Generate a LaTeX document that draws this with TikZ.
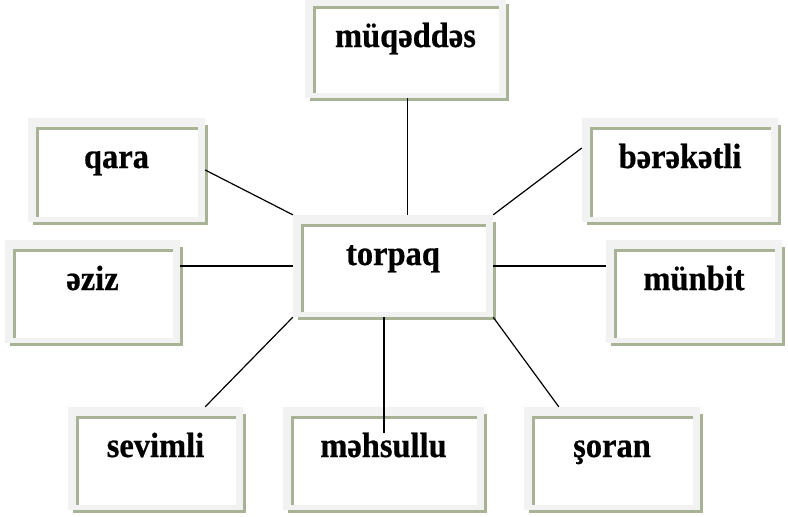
\documentclass[tikz,border=0pt]{standalone}
\usepackage{fontspec}
\usepackage{graphicx}
\setmainfont{Liberation Serif}[BoldFeatures={FakeBold=0.6}]
\usetikzlibrary{fit}
\definecolor{boxgray}{RGB}{242,242,242}
\definecolor{boxgreen}{RGB}{168,178,148}
\tikzset{
  conn/.style={draw=black, line width=1.2pt},
  lbl/.style={anchor=base, inner sep=0pt, font=\fontsize{32.5}{34}\selectfont\bfseries},
}
\newcommand{\wordbox}[6]{%
  \fill[boxgray] (#2,#3) rectangle (#4,#5);
  \draw[boxgreen, line width=3.5pt] (#4+1.5,#3+7) -- (#4+1.5,#5+1.5) -- (#2+5,#5+1.5);
  \fill[white] (#2+9,#3+10) rectangle (#4-7,#5-5);
  \draw[boxgreen, line width=3.5pt] (#2+9.5,#5-5) -- (#2+9.5,#3+10.5) -- (#4-7,#3+10.5);
  \node[fit={(#2,#3) (#4,#5)}, inner sep=0pt] (#1) {};
  \node[lbl] (#1l) at ({(#2+#4)/2},#3+50) {\scalebox{1}[1.08]{#6}};
}
\begin{document}
\begin{tikzpicture}[x=1pt,y=-1pt]
\useasboundingbox[fill=white] (0,0) rectangle (788,517);
\wordbox{muq}{305}{-3}{506}{98}{müqəddəs}
\wordbox{qara}{28}{118}{205}{222}{qara}
\wordbox{berek}{582}{118}{778}{222}{bərəkətli}
\wordbox{eziz}{5}{240}{180}{343}{əziz}
\wordbox{munbit}{606}{240}{782}{343}{münbit}
\wordbox{torpaq}{293}{215}{493}{317}{torpaq}
\wordbox{sevimli}{68}{407}{243}{510}{sevimli}
\wordbox{mehsullu}{283}{407}{484}{510}{məhsullu}
\wordbox{soran}{524}{407}{700}{510}{şoran}
\draw[conn] ([xshift=2pt]muq.south) -- ([xshift=2pt]muq.south |- torpaq.north);
\draw[conn] (qara.east) -- (torpaq.north west);
\draw[conn] ([yshift=22pt]berek.west) -- (torpaq.north east);
\draw[conn] (eziz.east |- torpaq.west) -- (torpaq.west);
\draw[conn] (torpaq.east) -- (munbit.west |- torpaq.east);
\draw[conn] (torpaq.south west) -- ([xshift=-38pt]sevimli.north east);
\draw[conn] ([xshift=-9pt]torpaq.south) -- ([xshift=-9pt]torpaq.south |- mehsullu.north) -- ++(0,26);
\draw[conn] (torpaq.south east) -- ([xshift=35pt]soran.north west);
\end{tikzpicture}
\end{document}
